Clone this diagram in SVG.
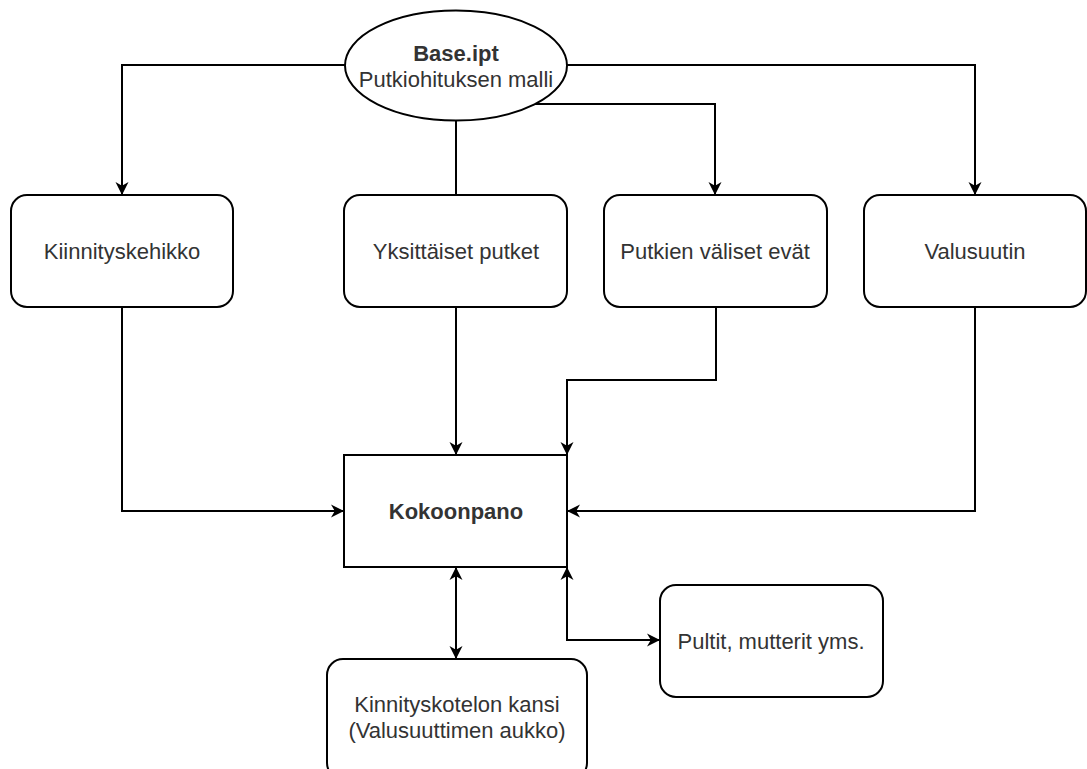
<svg xmlns="http://www.w3.org/2000/svg" width="1087" height="769" viewBox="0 0 1087 769">
<style>
.node{fill:#fff;stroke:#000;stroke-width:2}
.lbl{font-family:"Liberation Sans",Arial,sans-serif;font-size:22px;fill:#333;text-anchor:middle}
.b{font-weight:bold}
.edge{fill:none;stroke:#000;stroke-width:2}
</style>
<defs>
<marker id="arr" markerUnits="userSpaceOnUse" markerWidth="16" markerHeight="16" viewBox="0 0 16 16" refX="13" refY="8" orient="auto-start-reverse">
<path d="M0,1.5 L13,8 L0,14.5 L3.8,8 Z" fill="#000"/>
</marker>
</defs>
<rect width="1087" height="769" fill="#fff"/>
<g id="connectors">
<path class="edge" d="M345,65 H122 V195" marker-end="url(#arr)"/>
<path class="edge" d="M567,65 H975 V195" marker-end="url(#arr)"/>
<path class="edge" d="M535,104 H715 V195" marker-end="url(#arr)"/>
<path class="edge" d="M456,121 V195"/>
<path class="edge" d="M456,307 V455" marker-end="url(#arr)"/>
<path class="edge" d="M716,307 V380 H567 V455" marker-end="url(#arr)"/>
<path class="edge" d="M122,307 V511 H344" marker-end="url(#arr)"/>
<path class="edge" d="M975,307 V511 H567" marker-end="url(#arr)"/>
<path class="edge" d="M456,567 V659" marker-start="url(#arr)" marker-end="url(#arr)"/>
<path class="edge" d="M567,567 V640 H660" marker-start="url(#arr)" marker-end="url(#arr)"/>
</g>
<g id="base">
<ellipse class="node" cx="456" cy="65.5" rx="111" ry="55"/>
<text class="lbl b" x="456" y="61">Base.ipt</text>
<text class="lbl" x="456" y="87">Putkiohituksen malli</text>
</g>
<g id="kiinnityskehikko">
<rect class="node" x="11" y="195" width="222" height="112" rx="16"/>
<text class="lbl" x="122" y="259">Kiinnityskehikko</text>
</g>
<g id="yksittaiset">
<rect class="node" x="344" y="195" width="223" height="112" rx="16"/>
<text class="lbl" x="456" y="259">Yksittäiset putket</text>
</g>
<g id="evat">
<rect class="node" x="604" y="195" width="223" height="112" rx="16"/>
<text class="lbl" x="715" y="259">Putkien väliset evät</text>
</g>
<g id="valusuutin">
<rect class="node" x="864" y="195" width="222" height="112" rx="16"/>
<text class="lbl" x="975" y="259">Valusuutin</text>
</g>
<g id="kokoonpano">
<rect class="node" x="344" y="455" width="223" height="112"/>
<text class="lbl b" x="456" y="519">Kokoonpano</text>
</g>
<g id="pultit">
<rect class="node" x="660" y="585" width="223" height="112" rx="16"/>
<text class="lbl" x="771" y="649">Pultit, mutterit yms.</text>
</g>
<g id="kansi">
<rect class="node" x="327" y="659" width="260" height="120" rx="16"/>
<text class="lbl" x="457" y="712">Kinnityskotelon kansi</text>
<text class="lbl" x="457" y="738">(Valusuuttimen aukko)</text>
</g>
</svg>
